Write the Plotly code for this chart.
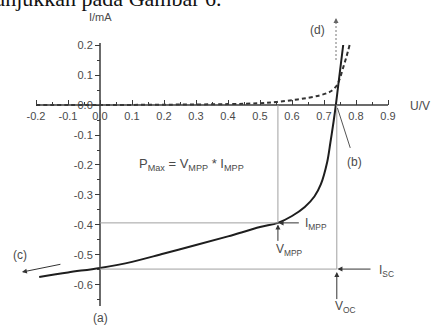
import plotly.graph_objects as go

# ---------------- data ----------------
V_light = [-0.19, -0.1, 0.0, 0.1, 0.2, 0.3, 0.4, 0.5, 0.556, 0.6, 0.64, 0.67, 0.69, 0.71, 0.72, 0.73, 0.737, 0.745, 0.76]
I_light = [-0.573, -0.558, -0.543, -0.523, -0.495, -0.467, -0.438, -0.407, -0.393, -0.37, -0.34, -0.305, -0.265, -0.19, -0.125, -0.055, 0.0, 0.07, 0.2]

V_dark = [-0.2, 0.0, 0.2, 0.4, 0.5, 0.55, 0.6, 0.65, 0.69, 0.72, 0.74, 0.75, 0.76, 0.77, 0.78]
I_dark = [0.0, 0.0, 0.001, 0.003, 0.006, 0.01, 0.016, 0.024, 0.033, 0.045, 0.065, 0.09, 0.125, 0.16, 0.2]

V_MPP, I_MPP = 0.556, -0.393
V_OC, I_SC = 0.74, -0.547

x_ticks = [-0.2, -0.1, 0.0, 0.1, 0.2, 0.3, 0.4, 0.5, 0.6, 0.7, 0.8, 0.9]
x_tick_labels = ["-0.2", "-0.1", "0.0", "0.1", "0.2", "0.3", "0.4", "0.5", "0.6", "0.7", "0.8", "0.9"]
x_minor = [-0.15, -0.05, 0.05, 0.15, 0.25, 0.35, 0.45, 0.55, 0.65, 0.75, 0.85]
y_ticks = [0.2, 0.1, 0.0, -0.1, -0.2, -0.3, -0.4, -0.5, -0.6]
y_tick_labels = ["0.2", "0.1", "0.0", "-0.1", "-0.2", "-0.3", "-0.4", "-0.5", "-0.6"]
y_minor = [0.15, 0.05, -0.05, -0.15, -0.25, -0.35, -0.45, -0.55, -0.65]
x_axis_span = [-0.197, 0.9]
y_axis_span = [-0.67, 0.207]

# ---------------- figure ----------------
W, H = 434, 326
X_RANGE = [-0.3125, 1.04375]
Y_RANGE = [-0.7367, 0.35]

AX = "#3a3a3a"
TXT = "#4a4a4a"
GRAY = "#a0a0a0"
FONT = "Liberation Sans, Arial, sans-serif"

fig = go.Figure()
fig.add_trace(go.Scatter(x=V_dark, y=I_dark, mode="lines", line_shape="spline",
                         line=dict(color="#333333", width=2, dash="4px,3px"), hoverinfo="skip"))
fig.add_trace(go.Scatter(x=V_light, y=I_light, mode="lines", line_shape="spline",
                         line=dict(color="#1e1e1e", width=2), hoverinfo="skip"))

shapes = [
    # axis lines
    dict(type="line", xref="x", yref="y", x0=x_axis_span[0], x1=x_axis_span[1], y0=0, y1=0,
         line=dict(color=AX, width=1.5)),
    dict(type="line", xref="x", yref="y", x0=0, x1=0, y0=y_axis_span[0], y1=y_axis_span[1],
         line=dict(color=AX, width=1.5)),
    # guide lines
    dict(type="line", xref="x", yref="y", x0=0, x1=V_MPP, y0=I_MPP, y1=I_MPP, line=dict(color=GRAY, width=1)),
    dict(type="line", xref="x", yref="y", x0=V_MPP, x1=V_MPP, y0=0, y1=I_MPP, line=dict(color=GRAY, width=1)),
    dict(type="line", xref="x", yref="y", x0=0, x1=V_OC, y0=I_SC, y1=I_SC, line=dict(color=GRAY, width=1)),
    dict(type="line", xref="x", yref="y", x0=V_OC, x1=V_OC, y0=0, y1=I_SC, line=dict(color=GRAY, width=1)),
    # leader to (b)
    dict(type="line", xref="x", yref="y", x0=0.742, x1=0.782, y0=-0.01, y1=-0.143, line=dict(color="#555", width=1)),
    # (d) dashed shaft
    dict(type="line", xref="x", yref="y", x0=0.7375, x1=0.7375, y0=0.15, y1=0.27,
         line=dict(color="#777", width=1, dash="2px,2px")),
]


def arrow(x, y, ax, ay, color="#333", width=1):
    return dict(x=x, y=y, ax=ax, ay=ay, xref="x", yref="y", axref="x", ayref="y", text="",
                showarrow=True, arrowhead=2, arrowsize=1, arrowwidth=width, arrowcolor=color)


def label(x, y, text, size=11, xanchor="center", yanchor="middle", color=TXT, family=FONT):
    return dict(x=x, y=y, xref="x", yref="y", text=text, showarrow=False, xanchor=xanchor,
                yanchor=yanchor, font=dict(size=size, color=color, family=family))


annotations = [
    arrow(V_MPP + 0.002, I_MPP, V_MPP + 0.07, I_MPP),
    arrow(V_MPP, I_MPP - 0.005, V_MPP, I_MPP - 0.065),
    arrow(V_OC + 0.002, I_SC, V_OC + 0.11, I_SC),
    arrow(V_OC, I_SC - 0.01, V_OC, I_SC - 0.105),
    arrow(-0.244, -0.557, -0.119, -0.53),
    arrow(0.7375, 0.29, 0.7375, 0.265, color="#666"),
    label(0.0, 0.295, "I/mA", size=11),
    label(0.962, -0.003, "U/V", size=12, xanchor="left"),
    label(0.285, -0.2, "P<sub>Max</sub> = V<sub>MPP</sub> * I<sub>MPP</sub>", size=13),
    label(0.634, -0.397, "I<sub>MPP</sub>", size=12, xanchor="left"),
    label(0.544, -0.482, "V<sub>MPP</sub>", size=12, xanchor="left"),
    label(0.866, -0.555, "I<sub>SC</sub>", size=12, xanchor="left"),
    label(0.727, -0.675, "V<sub>OC</sub>", size=12, xanchor="left"),
    label(0.0, -0.71, "(a)", size=12),
    label(0.795, -0.19, "(b)", size=12),
    label(-0.25, -0.5, "(c)", size=12),
    label(0.68, 0.25, "(d)", size=12),
    dict(x=224 / W, y=1 + 2 / H, xref="paper", yref="paper", text="ditunjukkan pada Gambar 6.",
         showarrow=False, xanchor="right", yanchor="middle",
         font=dict(size=22, color="#111", family="Liberation Serif, Times New Roman, serif")),
]

fig.update_layout(
    width=W, height=H,
    margin=dict(l=0, r=0, t=0, b=0, pad=0),
    paper_bgcolor="white", plot_bgcolor="white",
    showlegend=False,
    shapes=shapes, annotations=annotations,
    xaxis=dict(range=X_RANGE, domain=[0, 1], anchor="free", position=(0 - Y_RANGE[0]) / (Y_RANGE[1] - Y_RANGE[0]),
               tickmode="array", tickvals=x_ticks, ticktext=x_tick_labels,
               ticks="inside", ticklen=5, tickwidth=1, tickcolor=AX, ticklabelstandoff=3,
               minor=dict(tickmode="array", tickvals=x_minor, ticks="inside", ticklen=3, tickwidth=1, tickcolor=AX),
               showgrid=False, zeroline=False, showline=False, automargin=False,
               tickfont=dict(size=11, color=TXT, family=FONT)),
    yaxis=dict(range=Y_RANGE, domain=[0, 1], anchor="free", position=(0 - X_RANGE[0]) / (X_RANGE[1] - X_RANGE[0]),
               tickmode="array", tickvals=y_ticks, ticktext=y_tick_labels,
               ticks="outside", ticklen=5, tickwidth=1, tickcolor=AX,
               minor=dict(tickmode="array", tickvals=y_minor, ticks="outside", ticklen=3, tickwidth=1, tickcolor=AX),
               showgrid=False, zeroline=False, showline=False, automargin=False,
               tickfont=dict(size=11, color=TXT, family=FONT)),
)

fig.write_html("out.html", config={"displayModeBar": False},
               post_script="document.body.style.margin='0';document.body.style.overflow='hidden';")
